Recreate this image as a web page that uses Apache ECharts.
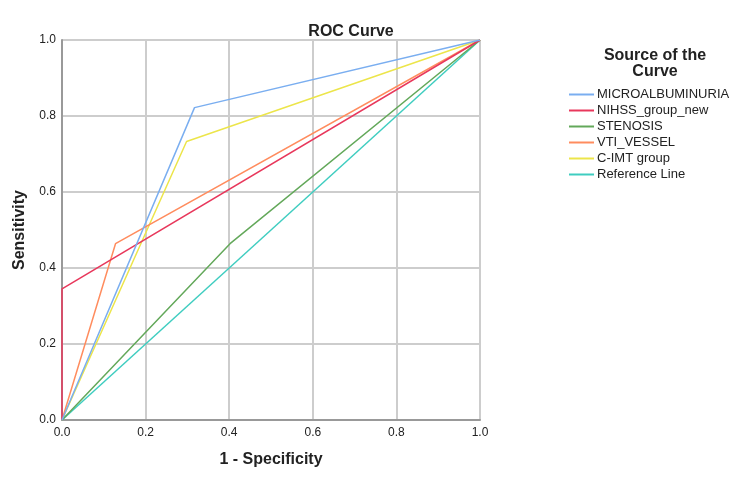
<!DOCTYPE html>
<html lang="en">
<head>
<meta charset="UTF-8">
<title>ROC Curve</title>
<script src="https://cdn.jsdelivr.net/npm/echarts@6/dist/echarts.min.js"></script>
<style>
  html, body { margin: 0; padding: 0; background: #fff; }
  #main { width: 750px; height: 488px; }
</style>
</head>
<body>
<div id="main"></div>
<script type="text/javascript">
// curve data: [1 - specificity, sensitivity]
var names = ['MICROALBUMINURIA', 'NIHSS_group_new', 'STENOSIS', 'VTI_VESSEL', 'C-IMT group', 'Reference Line'];
var colors = ['#7aaef0', '#e8385c', '#63a85a', '#ff8c5e', '#ece54a', '#3fcdc0'];
var microalbuminuria = [[0, 0], [0.317, 0.822], [1, 1]];
var nihss = [[0, 0], [0, 0.345], [1, 1]];
var stenosis = [[0, 0], [0.402, 0.464], [1, 1]];
var vtiVessel = [[0, 0], [0.128, 0.464], [1, 1]];
var cimt = [[0, 0], [0.298, 0.733], [1, 1]];
var referenceLine = [[0, 0], [1, 1]];
var seriesData = [microalbuminuria, nihss, stenosis, vtiVessel, cimt, referenceLine];

var myChart = echarts.init(document.getElementById('main'));
var font = 'Liberation Sans, Arial, sans-serif';

var series = names.map(function (n, i) {
    return {
        name: n,
        type: 'line',
        data: seriesData[i],
        symbol: 'none',
        lineStyle: { width: 1.5, color: colors[i] },
        itemStyle: { color: colors[i] },
        z: 10 - i
    };
});

myChart.setOption({
    animation: false,
    textStyle: { fontFamily: font },
    title: [{
        text: 'ROC Curve',
        left: 346, top: 19, textAlign: 'center',
        textStyle: { fontSize: 16, fontWeight: 'bold', color: '#222', fontFamily: font }
    }, {
        text: 'Source of the\nCurve',
        left: 650, top: 43, textAlign: 'center',
        textStyle: { fontSize: 16, fontWeight: 'bold', color: '#222', lineHeight: 16, fontFamily: font }
    }],
    legend: {
        orient: 'vertical',
        left: 569, top: 87, padding: 0,
        itemWidth: 25, itemHeight: 2, itemGap: 1,
        icon: 'rect',
        textStyle: { fontSize: 13, color: '#222', padding: [0, 0, 0, -2], lineHeight: 15, fontFamily: font },
        data: names
    },
    grid: { left: 62, right: 270, top: 40, bottom: 68 },
    xAxis: {
        type: 'value', min: 0, max: 1, interval: 0.2,
        name: '1 - Specificity', nameLocation: 'middle', nameGap: 32,
        nameTextStyle: { fontSize: 16, fontWeight: 'bold', color: '#222' },
        axisLine: { lineStyle: { color: '#999', width: 2 } },
        axisTick: { show: false },
        axisLabel: { color: '#222', fontSize: 12, margin: 7, formatter: function (v) { return v.toFixed(1); } },
        splitLine: { show: true, lineStyle: { color: '#cdcdcd', width: 2 } }
    },
    yAxis: {
        type: 'value', min: 0, max: 1, interval: 0.2,
        name: 'Sensitivity', nameLocation: 'middle', nameGap: 34,
        nameTextStyle: { fontSize: 16, fontWeight: 'bold', color: '#222' },
        axisLine: { show: true, lineStyle: { color: '#999', width: 2 } },
        axisTick: { show: false },
        axisLabel: { color: '#222', fontSize: 12, margin: 6, formatter: function (v) { return v.toFixed(1); } },
        splitLine: { show: true, lineStyle: { color: '#cdcdcd', width: 2 } }
    },
    series: series
});
</script>
</body>
</html>
